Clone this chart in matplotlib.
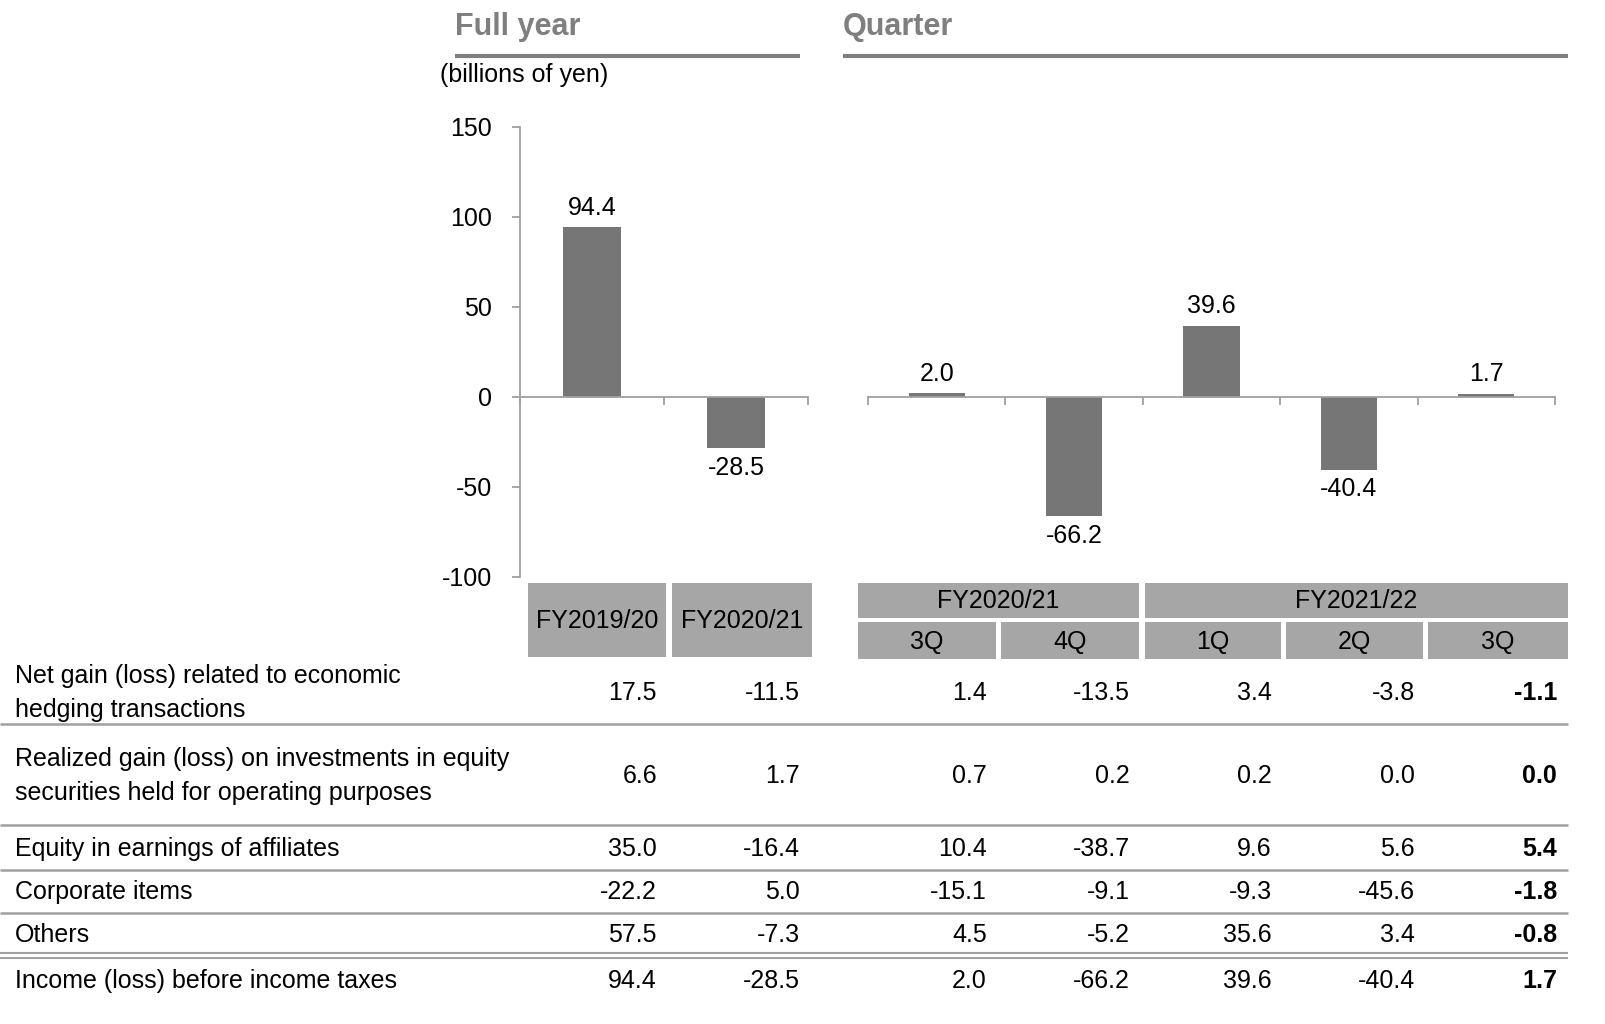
import matplotlib
matplotlib.use("Agg")
import matplotlib.pyplot as plt
from matplotlib.patches import Rectangle

plt.rcParams['font.family'] = ['Liberation Sans', 'DejaVu Sans']

# data
full_labels = ["FY2019/20", "FY2020/21"]
full_values = [94.4, -28.5]
quarter_years = ["FY2020/21", "FY2021/22"]
quarter_labels = ["3Q", "4Q", "1Q", "2Q", "3Q"]
quarter_values = [2.0, -66.2, 39.6, -40.4, 1.7]
y_ticks = [-100, -50, 0, 50, 100, 150]

row_labels = ["Net gain (loss) related to economic\nhedging transactions",
              "Realized gain (loss) on investments in equity\nsecurities held for operating purposes",
              "Equity in earnings of affiliates",
              "Corporate items",
              "Others",
              "Income (loss) before income taxes"]
table_values = [["17.5", "-11.5", "1.4", "-13.5", "3.4", "-3.8", "-1.1"],
                ["6.6", "1.7", "0.7", "0.2", "0.2", "0.0", "0.0"],
                ["35.0", "-16.4", "10.4", "-38.7", "9.6", "5.6", "5.4"],
                ["-22.2", "5.0", "-15.1", "-9.1", "-9.3", "-45.6", "-1.8"],
                ["57.5", "-7.3", "4.5", "-5.2", "35.6", "3.4", "-0.8"],
                ["94.4", "-28.5", "2.0", "-66.2", "39.6", "-40.4", "1.7"]]

W, H = 1606, 1024
bar_color = "#767676"
box_color = "#A6A6A6"
line_color = "#A0A0A0"
head_color = "#7F7F7F"
fs = 18

fig = plt.figure(figsize=(W / 100, H / 100), dpi=100)
ax0 = fig.add_axes([0, 0, 1, 1])
ax0.set_xlim(0, W)
ax0.set_ylim(H, 0)
ax0.axis("off")


def px_axes(x0, x1, y0, y1):
    return fig.add_axes([x0 / W, 1 - y1 / H, (x1 - x0) / W, (y1 - y0) / H])


def style_chart(ax, n, show_left):
    ax.set_xlim(-0.5, n - 0.5)
    ax.set_ylim(-100, 150)
    for s in ["top", "right"]:
        ax.spines[s].set_visible(False)
    ax.spines["left"].set_visible(show_left)
    ax.spines["bottom"].set_position(("data", 0))
    for s in ["left", "bottom"]:
        ax.spines[s].set_color(line_color)
        ax.spines[s].set_linewidth(1.3)
    ax.set_xticks([i - 0.5 for i in range(n + 1)])
    ax.set_xticklabels([])
    ax.tick_params(axis="x", direction="out", length=6, width=1.3, color=line_color)
    if show_left:
        ax.set_yticks(y_ticks)
        ax.set_yticklabels([str(t) for t in y_ticks], fontsize=fs)
        ax.tick_params(axis="y", direction="out", length=6, width=1.3, color=line_color, pad=14)
    else:
        ax.set_yticks([])
    ax.patch.set_alpha(0)


def label_bars(ax, values):
    for i, v in enumerate(values):
        off = 14 if v >= 0 else -14
        ax.annotate("%.1f" % v, (i, v), xytext=(0, off), textcoords="offset points",
                    ha="center", va="center", fontsize=fs)


ax1 = px_axes(520, 808, 127, 577)
ax1.bar(range(len(full_values)), full_values, width=0.4, color=bar_color)
style_chart(ax1, len(full_values), True)
label_bars(ax1, full_values)

ax2 = px_axes(868, 1555, 127, 577)
ax2.bar(range(len(quarter_values)), quarter_values, width=0.41, color=bar_color)
style_chart(ax2, len(quarter_values), False)
label_bars(ax2, quarter_values)

# section headers
ax0.text(455, 27, "Full year", fontsize=22, fontweight="bold", color=head_color, va="center")
ax0.text(843, 27, "Quarter", fontsize=22, fontweight="bold", color=head_color, va="center")
ax0.plot([455, 800], [56, 56], color=head_color, lw=3, solid_capstyle="butt")
ax0.plot([843, 1568], [56, 56], color=head_color, lw=3, solid_capstyle="butt")
ax0.text(440, 75, "(billions of yen)", fontsize=fs, va="center")

# header boxes
def box(x0, x1, y0, y1, txt):
    ax0.add_patch(Rectangle((x0, y0), x1 - x0, y1 - y0, color=box_color, lw=0))
    ax0.text((x0 + x1) / 2, (y0 + y1) / 2 + 1, txt, ha="center", va="center", fontsize=fs)

full_box_x = [(528, 666), (672, 812)]
for (x0, x1), lab in zip(full_box_x, full_labels):
    box(x0, x1, 583, 657, lab)

year_box_x = [(858, 1139), (1145, 1568)]
for (x0, x1), lab in zip(year_box_x, quarter_years):
    box(x0, x1, 583, 618, lab)

q_box_x = [(858, 996), (1001, 1139), (1145, 1281), (1286, 1423), (1428, 1568)]
for (x0, x1), lab in zip(q_box_x, quarter_labels):
    box(x0, x1, 622, 659, lab)

# table
col_right = [657, 800, 987, 1130, 1272, 1415, 1557]
row_y = [693, 776, 849, 892, 935, 981]
sep_y = [724, 825, 870, 913]

for lab, vals, y in zip(row_labels, table_values, row_y):
    ax0.text(15, y, lab, fontsize=fs, va="center", linespacing=1.5)
    for j, (x, v) in enumerate(zip(col_right, vals)):
        ax0.text(x, y, v, fontsize=fs, va="center", ha="right",
                 fontweight="bold" if j == len(vals) - 1 else "normal")

for y in sep_y:
    ax0.plot([0, 1568], [y, y], color=line_color, lw=1.8, solid_capstyle="butt")
for y in [953, 958]:
    ax0.plot([0, 1568], [y, y], color=line_color, lw=1.5, solid_capstyle="butt")

fig.savefig("out.png", dpi=100)
